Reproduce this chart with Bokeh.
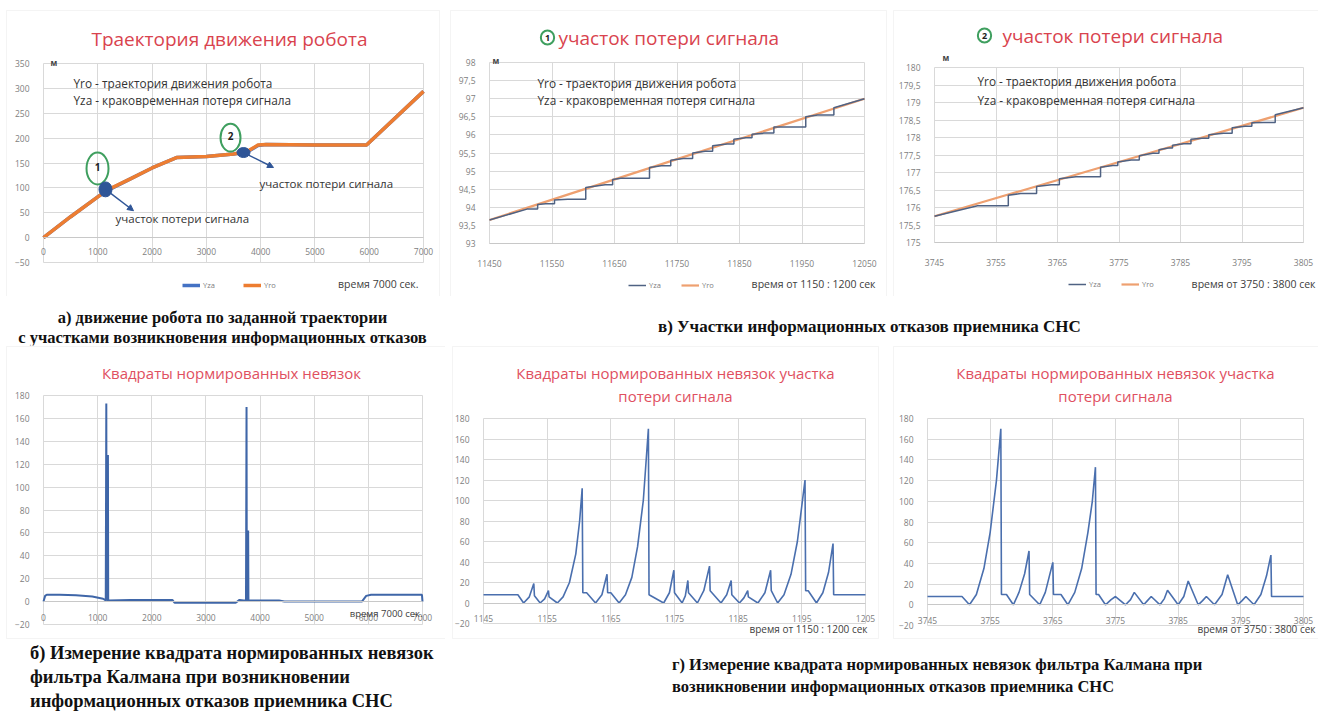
from bokeh.plotting import figure
from bokeh.models import (Range1d, FixedTicker, CustomJSTickFormatter, Label, Legend,
                          LegendItem, Arrow, NormalHead, Div, Grid, BoxAnnotation)
from bokeh.layouts import row, column
from bokeh.embed import file_html
from bokeh.resources import INLINE

# ---------------------------------------------------------------- data
# а) trajectory of the robot, 0..7000 s
traj_t = [0, 500, 1000, 1200, 1600, 2000, 2450, 3000, 3500, 3750, 3950, 4100, 5000, 5950, 7000]
traj_yro = [0, 42, 82, 97, 118, 140, 161, 163, 168, 173, 186, 187, 186, 186, 294]
traj_yza = [0, 42, 82, 96, 118, 140, 161, 163, 168, 172, 185, 187, 186, 186, 294]
traj_xticks = [0, 1000, 2000, 3000, 4000, 5000, 6000, 7000]
traj_yticks = [-50, 0, 50, 100, 150, 200, 250, 300, 350]

# в) section 1 of signal loss
sec1_yro_t = [11450, 11750, 12050]
sec1_yro = [93.65, 95.33, 97.0]
sec1_yza_t = [11450, 11510, 11527, 11527, 11540, 11554, 11554, 11575, 11604, 11604, 11635, 11647,
              11647, 11660, 11706, 11706, 11725, 11740, 11740, 11760, 11775, 11775, 11795, 11807,
              11807, 11830, 11841, 11841, 11860, 11870, 11870, 11890, 11905, 11905, 11915, 11956,
              11956, 11975, 12001, 12001, 12050]
sec1_yza = [93.65, 93.95, 93.95, 94.08, 94.1, 94.1, 94.2, 94.22, 94.22, 94.55, 94.62, 94.62,
            94.77, 94.8, 94.8, 95.1, 95.15, 95.15, 95.3, 95.35, 95.35, 95.5, 95.55, 95.55,
            95.7, 95.75, 95.75, 95.88, 95.92, 95.92, 96.02, 96.05, 96.05, 96.22, 96.22, 96.22,
            96.5, 96.55, 96.55, 96.75, 97.0]
sec1_xticks = [11450, 11550, 11650, 11750, 11850, 11950, 12050]
sec1_yticks = [93, 93.5, 94, 94.5, 95, 95.5, 96, 96.5, 97, 97.5, 98]

# в) section 2 of signal loss
sec2_yro_t = [3745, 3775, 3805]
sec2_yro = [175.75, 177.3, 178.85]
sec2_yza_t = [3745, 3752, 3757, 3757, 3759, 3761.6, 3761.6, 3764, 3765.3, 3765.3, 3768, 3772,
              3772, 3774, 3774.8, 3774.8, 3777, 3778.3, 3778.3, 3780.5, 3781.5, 3781.5, 3783,
              3783.7, 3783.7, 3785.5, 3786.7, 3786.7, 3788.5, 3789.6, 3789.6, 3792, 3793.4,
              3793.4, 3795.5, 3796.6, 3796.6, 3798.5, 3800.4, 3800.4, 3805]
sec2_yza = [175.75, 176.05, 176.05, 176.35, 176.4, 176.4, 176.6, 176.65, 176.65, 176.82, 176.88,
            176.88, 177.15, 177.2, 177.2, 177.3, 177.36, 177.36, 177.48, 177.55, 177.55, 177.65,
            177.7, 177.7, 177.78, 177.82, 177.82, 177.95, 177.98, 177.98, 178.08, 178.12, 178.12,
            178.28, 178.32, 178.32, 178.42, 178.43, 178.43, 178.65, 178.85]
sec2_xticks = [3745, 3755, 3765, 3775, 3785, 3795, 3805]
sec2_yticks = [175, 175.5, 176, 176.5, 177, 177.5, 178, 178.5, 179, 179.5, 180]

# б) squared normalised innovations, 0..7000 s
nis_t = [0, 30, 60, 300, 600, 900, 1100, 1150, 1160, 1165, 1175, 1180, 1190, 1195, 1205, 1600,
         2000, 2380, 2420, 3000, 3550, 3620, 3700, 3740, 3750, 3755, 3765, 3770, 3780, 3785,
         3900, 4350, 4450, 5000, 5880, 5960, 6050, 6500, 6990, 7000]
nis_v = [0, 5, 6, 6, 5.5, 4.5, 2.5, 1, 173, 2, 128, 0, 128, 2, 1, 1.5,
         1.5, 1.5, -1, -1, -1, 1.5, 1, 1, 170, 2, 62, 0, 62, 1,
         1, 1, 0, 0, 0, 5, 6, 6, 6, 0]
nis_xticks = [0, 1000, 2000, 3000, 4000, 5000, 6000, 7000]
nis_yticks = [-20, 0, 20, 40, 60, 80, 100, 120, 140, 160, 180]

# г) squared normalised innovations, section 1150:1200 s
kal1_t = [1145, 1150.4, 1151.3, 1152.2, 1152.9, 1153.0, 1153.9, 1154.6, 1155.2, 1155.3, 1156.6,
          1157.5, 1158.5, 1159.5, 1160.1, 1160.5, 1160.6, 1161.2, 1162.6, 1163.6, 1164.4, 1164.5,
          1165.0, 1166.3, 1167.3, 1168.3, 1169.2, 1170.1, 1170.9, 1171.0, 1173.3, 1174.2, 1174.9,
          1175.0, 1176.2, 1176.7, 1177.1, 1177.2, 1178.6, 1179.6, 1180.5, 1180.6, 1182.3, 1183.2,
          1183.9, 1184.0, 1185.2, 1185.9, 1186.5, 1186.6, 1188.1, 1189.2, 1190.1, 1190.2, 1191.2,
          1192.2, 1193.3, 1194.3, 1195.0, 1195.5, 1195.6, 1196.0, 1197.3, 1198.3, 1199.2, 1199.9,
          1200.0, 1205]
kal1_v = [8, 8, 0, 6, 19, 7, 0, 4, 12, 6, 0,
          6, 20, 48, 80, 112, 10, 10, 0, 8, 28, 10,
          10, 0, 8, 25, 55, 100, 170, 8, 0, 10, 32,
          10, 0, 7, 22, 10, 0, 12, 36, 12, 0, 8,
          22, 8, 0, 5, 12, 6, 0, 10, 32, 12, 0,
          8, 28, 60, 95, 120, 12, 12, 0, 10, 30, 58,
          8, 8]
kal1_xticks = [1145, 1155, 1165, 1175, 1185, 1195, 1205]

# г) squared normalised innovations, section 3750:3800 s
kal2_t = [3745, 3750.5, 3751.7, 3752.8, 3754.0, 3755.0, 3756.0, 3756.7, 3756.8, 3757.6, 3758.7,
          3759.6, 3760.5, 3761.2, 3761.3, 3762.9, 3763.8, 3765.0, 3765.1, 3766.3, 3767.4, 3768.5,
          3769.6, 3770.6, 3771.3, 3771.8, 3771.9, 3772.3, 3773.4, 3774.3, 3775.0, 3776.6, 3777.4,
          3778.0, 3779.5, 3780.1, 3780.7, 3782.1, 3782.8, 3783.3, 3785.0, 3785.9, 3786.6, 3788.2,
          3788.9, 3789.5, 3790.8, 3792.0, 3792.9, 3794.5, 3795.2, 3795.8, 3797.1, 3798.2, 3799.1,
          3799.8, 3799.9, 3805]
kal2_v = [8, 8, 0, 10, 35, 70, 120, 170, 10, 10, 0,
          12, 30, 52, 10, 0, 12, 41, 10, 10, 0, 12,
          35, 70, 100, 133, 10, 10, 0, 5, 8, 0, 5,
          12, 0, 4, 8, 0, 6, 14, 0, 8, 23, 0,
          4, 8, 0, 10, 29, 0, 4, 8, 0, 10, 28,
          48, 8, 8]
kal2_xticks = [3745, 3755, 3765, 3775, 3785, 3795, 3805]

# annotations of panel а) (data coordinates)
loss_num = ["1", "2"]
loss_circle_t = [995, 3445]
loss_circle_y = [139, 201]
loss_blob_t = [1142, 3684]
loss_blob_y = [97, 171]
loss_arrow_t = [1658, 4237]
loss_arrow_y = [54, 141]
loss_text = "участок потери сигнала"
legend_lines = ["Yro - траектория движения робота", "Yza - краковременная потеря сигнала"]

# ---------------------------------------------------------------- style
FONT = "Open Sans"
SERIF = "Liberation Serif, Tinos, Times New Roman, Times, DejaVu Serif, serif"
BLUE = "#4472c4"
ORANGE = "#ed7d31"
GRID = "#d9d9d9"
TICK = "#808080"
TITLE_RED = "#d9434e"
TITLE_RED2 = "#e0505f"
GREEN = "#3f9f5f"
ZA2 = "#4f6283"
RO2 = "#eea070"
comma_fmt = "return tick.toString().replace('.', ',');"
HAS_CB = "cross_bounds" in Grid.properties()
ORIGIN = {}


def make_fig(w, h, fx, fy, xd, xp, yd, yp, xticks, yticks, xaxis_at, comma=False,
             standoff=6, box=None):
    """fx, fy: page position of the figure; xd/xp: two x values and their page x;
    yd/yp: top and bottom y values and their page y."""
    kx = (xd[1] - xd[0]) / (xp[1] - xp[0])
    ky = (yd[1] - yd[0]) / (yp[1] - yp[0])
    xr = Range1d(xd[0] + (fx - xp[0]) * kx, xd[0] + (fx + w - xp[0]) * kx)
    yr = Range1d(yd[0] + (fy + h - yp[0]) * ky, yd[0] + (fy - yp[0]) * ky)
    p = figure(width=w, height=h, x_range=xr, y_range=yr, title=None,
               output_backend="svg", toolbar_location=None, min_border=0)
    p.outline_line_color = None
    ORIGIN[id(p)] = (fx, fy + h)  # page position of the frame's bottom-left corner
    xmin, xmax = xd
    ymax, ymin = yd
    p.xaxis.ticker = FixedTicker(ticks=xticks)
    p.yaxis.ticker = FixedTicker(ticks=yticks)
    p.xaxis.fixed_location = xaxis_at
    p.yaxis.fixed_location = xmin
    p.xaxis.bounds = (xmin, xmax)
    p.yaxis.bounds = (ymin, ymax)
    for ax in (p.xaxis, p.yaxis):
        ax.major_tick_line_color = None
        ax.minor_tick_line_color = None
        ax.major_label_text_font = FONT
        ax.major_label_text_font_size = "8.5px"
        ax.major_label_text_color = TICK
    p.yaxis.axis_line_color = None
    p.yaxis.major_label_standoff = 8
    p.xaxis.axis_line_color = "#c8c8c8"
    p.xaxis.major_label_standoff = standoff
    if comma:
        p.yaxis.formatter = CustomJSTickFormatter(code=comma_fmt)
    if HAS_CB:
        p.xgrid.grid_line_color = GRID
        p.ygrid.grid_line_color = GRID
        p.xgrid.cross_bounds = (ymin, ymax)
        p.ygrid.cross_bounds = (xmin, xmax)
    else:
        p.xgrid.visible = False
        p.ygrid.visible = False
        p.multi_line([[t, t] for t in xticks], [[ymin, ymax] for _ in xticks],
                     line_color=GRID, line_width=1)
        p.multi_line([[xmin, xmax] for _ in yticks], [[v, v] for v in yticks],
                     line_color=GRID, line_width=1)
    if box is not None:  # light border of the chart area (page coordinates)
        l, t, r, b = box
        p.add_layout(BoxAnnotation(left=l - fx, right=r - fx, top=fy + h - t, bottom=fy + h - b,
                                   left_units="screen", right_units="screen",
                                   top_units="screen", bottom_units="screen",
                                   fill_alpha=0, line_color="#dcdcdc", line_width=1))
    return p


def lbl(p, px, py, text, size, color="#404040", align="left", bold=False, font=FONT, **kw):
    ox, oy = ORIGIN[id(p)]
    p.add_layout(Label(x=px - ox, y=oy - py, x_units="screen", y_units="screen",
                       text=text, text_font=font, text_font_size=f"{size}px",
                       text_color=color, text_align=align, text_baseline="middle",
                       text_font_style="bold" if bold else "normal", **kw))


def add_legend(p, r_za, r_ro, px, py, spacing):
    ox, oy = ORIGIN[id(p)]
    leg = Legend(items=[LegendItem(label="Yza", renderers=[r_za]),
                        LegendItem(label="Yro", renderers=[r_ro])],
                 location=(px - ox, oy - py), orientation="horizontal",
                 label_text_font=FONT, label_text_font_size="7.5px",
                 label_text_color="#808080", glyph_width=18, glyph_height=6,
                 label_standoff=3, spacing=spacing, padding=0, margin=0,
                 border_line_color=None, background_fill_alpha=0, label_height=8)
    p.add_layout(leg)


# ---------------------------------------------------------------- а)
pa = make_fig(445, 296, 0, 0, (0, 7000), (43, 423), (350, -50), (63, 262),
              traj_xticks, traj_yticks, 0, standoff=4, box=(6, 10, 439, 296))
ra_za = pa.line(traj_t, traj_yza, line_color=BLUE, line_width=3.5)
ra_ro = pa.line(traj_t, traj_yro, line_color=ORANGE, line_width=3.5)
pa.ellipse(loss_circle_t, loss_circle_y, width=[405, 368], height=[64, 56],
           fill_color=None, line_color=GREEN, line_width=2)
pa.ellipse(loss_blob_t, loss_blob_y, width=[240, 240], height=[30, 20],
           fill_color="#2f5597", line_color="#2f5597")
for i in range(2):
    pa.add_layout(Arrow(end=NormalHead(size=6, fill_color="#2f5597", line_color="#2f5597"),
                        x_start=loss_blob_t[i], y_start=loss_blob_y[i],
                        x_end=loss_arrow_t[i], y_end=loss_arrow_y[i],
                        line_color="#2f5597", line_width=1.5))
lbl(pa, 97, 166, loss_num[0], 10, "#222222", align="center", bold=True)
lbl(pa, 230, 135, loss_num[1], 10, "#222222", align="center", bold=True)
lbl(pa, 115, 218, loss_text, 11.5, "#333333")
lbl(pa, 259, 183, loss_text, 11.5, "#333333")
lbl(pa, 73, 82, legend_lines[0], 11.8, "#333333")
lbl(pa, 73, 99, legend_lines[1], 11.8, "#333333")
lbl(pa, 229, 38, "Траектория движения робота", 19, TITLE_RED, align="center")
lbl(pa, 50, 62, "м", 8, "#444444", bold=True)
lbl(pa, 418, 283, "время 7000 сек.", 10.5, "#404040", align="right")
add_legend(pa, ra_za, ra_ro, 182, 290, 20)

# ---------------------------------------------------------------- в) section 1
pb = make_fig(445, 296, 445, 0, (11450, 12050), (489, 864), (98, 93), (62, 243),
              sec1_xticks, sec1_yticks, 93, comma=True, standoff=10, box=(450, 10, 886, 296))
rb_ro = pb.line(sec1_yro_t, sec1_yro, line_color=RO2, line_width=2.2)
rb_za = pb.line(sec1_yza_t, sec1_yza, line_color=ZA2, line_width=1.5)
lbl(pb, 537, 82, legend_lines[0], 11.8, "#333333")
lbl(pb, 537, 99, legend_lines[1], 11.8, "#333333")
lbl(pb, 547, 37, "1", 9, "#222222", align="center", bold=True,
    border_line_color=GREEN, border_line_width=2, padding=4, border_radius=9)
lbl(pb, 558, 37, "участок потери сигнала", 19, TITLE_RED)
lbl(pb, 492, 60, "м", 8, "#444444", bold=True)
lbl(pb, 875, 283, "время от 1150 : 1200 сек", 10.5, "#404040", align="right")
add_legend(pb, rb_za, rb_ro, 628, 290, 12)

# ---------------------------------------------------------------- в) section 2
pc = make_fig(428, 296, 890, 0, (3745, 3805), (934, 1303), (180, 175), (67, 242),
              sec2_xticks, sec2_yticks, 175, comma=True, standoff=10, box=(893, 10, 1318, 296))
rc_ro = pc.line(sec2_yro_t, sec2_yro, line_color=RO2, line_width=2.2)
rc_za = pc.line(sec2_yza_t, sec2_yza, line_color=ZA2, line_width=1.5)
lbl(pc, 977, 80, legend_lines[0], 11.8, "#333333")
lbl(pc, 977, 99, legend_lines[1], 11.8, "#333333")
lbl(pc, 984, 35, "2", 9, "#222222", align="center", bold=True,
    border_line_color=GREEN, border_line_width=2, padding=4, border_radius=9)
lbl(pc, 1002, 35, "участок потери сигнала", 19, TITLE_RED)
lbl(pc, 942, 57, "м", 8, "#444444", bold=True)
lbl(pc, 1315, 283, "время от 3750 : 3800 сек", 10.5, "#404040", align="right")
add_legend(pc, rc_za, rc_ro, 1068, 289, 12)

# ---------------------------------------------------------------- б)
pd = make_fig(445, 296, 0, 345, (0, 7000), (43, 422), (180, -20), (395, 624),
              nis_xticks, nis_yticks, 0, standoff=6, box=(6, 346, 446, 638))
pd.line(nis_t, nis_v, line_color="#3f66a8", line_width=2)
lbl(pd, 231, 372, "Квадраты нормированных невязок", 15, TITLE_RED2, align="center")
lbl(pd, 422, 613, "время 7000 сек.", 9.5, "#404040", align="right")

# ---------------------------------------------------------------- г) section 1
pe = make_fig(435, 296, 445, 345, (1145, 1205), (483, 865), (180, -20), (418, 623),
              kal1_xticks, nis_yticks, 0, standoff=6, box=(452, 346, 878, 638))
pe.line(kal1_t, kal1_v, line_color="#4a6fae", line_width=1.6)
lbl(pe, 675, 372, "Квадраты нормированных невязок участка", 15, TITLE_RED2, align="center")
lbl(pe, 675, 395, "потери сигнала", 15, TITLE_RED2, align="center")
lbl(pe, 867, 628, "время от 1150 : 1200 сек", 10, "#404040", align="right")

# ---------------------------------------------------------------- г) section 2
pf = make_fig(438, 296, 880, 345, (3745, 3805), (927, 1303), (180, -20), (418, 625),
              kal2_xticks, nis_yticks, 0, standoff=6, box=(893, 346, 1318, 638))
pf.line(kal2_t, kal2_v, line_color="#4a6fae", line_width=1.6)
lbl(pf, 1115, 372, "Квадраты нормированных невязок участка", 15, TITLE_RED2, align="center")
lbl(pf, 1115, 395, "потери сигнала", 15, TITLE_RED2, align="center")
lbl(pf, 1315, 628, "время от 3750 : 3800 сек", 10, "#404040", align="right")

# ---------------------------------------------------------------- captions
cap = f"font-family:{SERIF};font-weight:bold;color:#111;white-space:nowrap;"
host = {"font-family": SERIF}
div_a = Div(text=f'<div style="{cap}font-size:16.5px;text-align:center;line-height:20px;'
                 'padding-top:12px;width:445px">'
                 'а) движение робота по заданной траектории<br>'
                 'с участками возникновения информационных отказов</div>',
            width=445, height=49, margin=0, styles=host)
div_v = Div(text=f'<div style="{cap}font-size:17px;line-height:20px;padding-top:21px;'
                 'padding-left:213px">'
                 'в) Участки информационных отказов приемника СНС</div>',
            width=874, height=49, margin=0, styles=host)
div_b = Div(text=f'<div style="{cap}font-size:18.5px;line-height:24px;padding-top:0px;'
                 'padding-left:30px">'
                 'б) Измерение квадрата нормированных невязок<br>'
                 'фильтра Калмана при возникновении<br>'
                 'информационных отказов приемника СНС</div>',
            width=445, height=73, margin=0, styles=host)
div_g = Div(text=f'<div style="{cap}font-size:16.5px;line-height:22px;padding-top:13px;'
                 'padding-left:227px">'
                 'г) Измерение квадрата нормированных невязок фильтра Калмана при<br>'
                 'возникновении информационных отказов приемника СНС</div>',
            width=874, height=73, margin=0, styles=host)

layout = column(row(pa, pb, pc), row(div_a, div_v), row(pd, pe, pf), row(div_b, div_g))
open("out.html", "w").write(file_html(layout, INLINE))
